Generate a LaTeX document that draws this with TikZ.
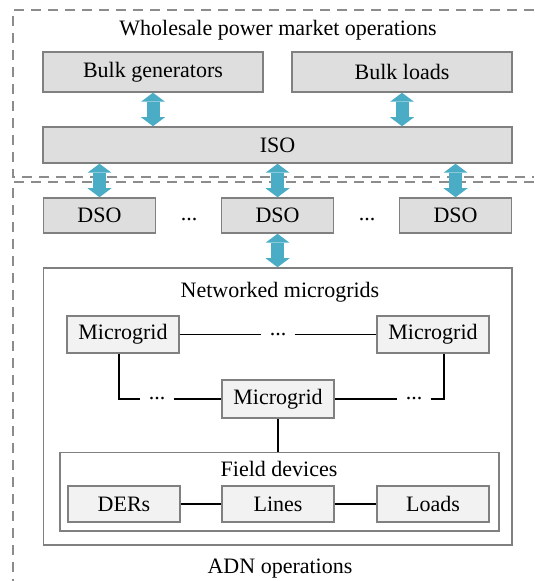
\documentclass[tikz,border=0pt]{standalone}
\usepackage{fontspec}
\setmainfont{Liberation Serif}
\usetikzlibrary{positioning, arrows.meta}

\definecolor{boxgray}{RGB}{222,222,222}
\definecolor{mggray}{RGB}{242,242,242}
\definecolor{edgegray}{RGB}{128,128,128}
\definecolor{flowblue}{RGB}{75,172,198}

\tikzset{
	opbox/.style={draw=edgegray, fill=boxgray, line width=0.75pt, inner sep=0pt, minimum height=18pt},
	mgbox/.style={draw=edgegray, fill=mggray, line width=0.75pt, inner sep=0pt, minimum width=56pt, minimum height=18.5pt},
	areabox/.style={draw=edgegray, fill=white, line width=0.75pt, inner sep=0pt},
	zone/.style={draw=gray!90, line width=0.9pt, dash pattern=on 5pt off 3.5pt},
	link/.style={draw=black, line width=0.7pt},
	flow/.style={draw=flowblue, line width=6.5pt, >={Triangle[length=4.5pt, width=12pt, line width=0pt]}, <->},
	gap/.style={inner xsep=4pt, inner ysep=0pt}
}

\begin{document}
\begin{tikzpicture}[x=1pt, y=1pt, font=\fontsize{11pt}{13pt}\selectfont]
	\useasboundingbox (0,0) rectangle (267,-290.5);

	% dashed zones
	\draw[zone] (267,-5) -| (6.5,-88.5) -- (267,-88.5);
	\draw[zone] (267,-91) -| (6.5,-300);

	% wholesale market
	\node[anchor=base] (wtitle) at (139,-18) {Wholesale power market operations};
	\node[opbox, minimum width=110pt, minimum height=20pt] (bulkgen) at (76.5,-36) {Bulk generators};
	\node[opbox, minimum width=110pt, minimum height=20pt, right=13.75pt of bulkgen] (bulkload) {Bulk loads};
	\node[opbox, minimum width=234.5pt] (iso) at (138.75,-72.5) {ISO};

	% distribution
	\node[opbox, minimum width=56pt, minimum height=17.5pt] (dso1) at (49.75,-107.75) {DSO};
	\node[opbox, minimum width=56pt, minimum height=17.5pt, right=32.25pt of dso1] (dso2) {DSO};
	\node[opbox, minimum width=56pt, minimum height=17.5pt, right=32.25pt of dso2] (dso3) {DSO};
	\node[anchor=base] (ddots1) at (94.5,-110.5) {...};
	\node[anchor=base] (ddots2) at (183.5,-110.5) {...};

	% networked microgrids
	\node[areabox, minimum width=234.25pt, minimum height=138.5pt] (nm) at (138.9,-203.25) {};
	\node[anchor=base] (nmtitle) at (140,-149) {Networked microgrids};
	\node[mgbox] (mg1) at (61.5,-167.25) {Microgrid};
	\node[mgbox] (mg3) at (216.5,-167.25) {Microgrid};
	\node[mgbox, minimum height=19pt] (mg2) at (139,-199.5) {Microgrid};
	\node[gap] (dtop) at (139,-167.25) {...};
	\node[gap] (dleft) at (78.5,-199.5) {...};
	\node[gap] (dright) at (207,-199.5) {...};

	% field devices
	\node[areabox, minimum width=219.5pt, minimum height=39.25pt] (fd) at (139.75,-245.9) {};
	\node[anchor=base] (fdtitle) at (139.5,-238.3) {Field devices};
	\node[mgbox, minimum height=18pt] (ders) at (62,-252) {DERs};
	\node[mgbox, minimum height=18pt, right=20.25pt of ders] (lines) {Lines};
	\node[mgbox, minimum height=18pt, right=20.75pt of lines] (loads) {Loads};

	\node[anchor=base] (adn) at (140,-286.5) {ADN operations};

	% information flows
	\draw[flow] (bulkgen.south) -- (bulkgen.south |- iso.north);
	\draw[flow] (bulkload.south) -- (bulkload.south |- iso.north);
	\foreach \d in {dso1,dso2,dso3}
		\draw[flow] (\d.north |- iso.south) -- (\d.north);
	\draw[flow] (dso2.south) -- (dso2.south |- nm.north);

	% physical links
	\draw[link] (mg1) -- (dtop) -- (mg3);
	\draw[link] ([xshift=-2pt]mg1.south) |- (dleft) -- (mg2) -- (dright) -| ([xshift=5.5pt]mg3.south);
	\draw[link] (mg2.south) -- (mg2.south |- fd.north);
	\draw[link] (ders) -- (lines) -- (loads);
\end{tikzpicture}
\end{document}
